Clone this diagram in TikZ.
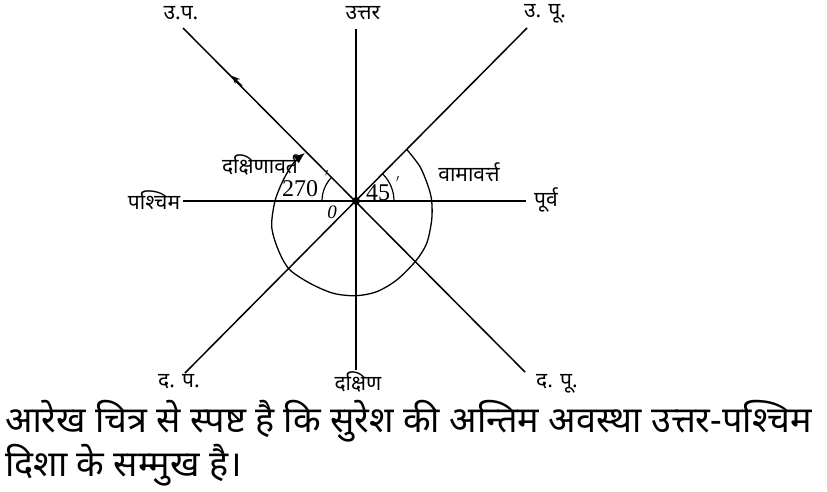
\documentclass[tikz,border=0pt]{standalone}
\usepackage{fontspec}
\setmainfont{Liberation Serif}
\newfontfamily\dev[Script=Devanagari]{Noto Sans}
\usetikzlibrary{arrows.meta}
\tikzset{
  dir/.style={line width=1.5pt},
  lbl/.style={font=\dev\fontsize{21}{24}\selectfont, inner sep=0pt},
  num/.style={font=\fontsize{24}{26}\selectfont, inner sep=0pt},
  deg/.style={font=\fontsize{16}{16}\selectfont, inner sep=0pt},
  para/.style={font=\dev\fontsize{36}{40}\selectfont, inner sep=0pt, anchor=base west},
}
\begin{document}
\begin{tikzpicture}[x=1pt,y=-1pt]
\useasboundingbox (0,0) rectangle (827,491);
\coordinate (O) at (356,201);
\coordinate (N) at (356,29);
\coordinate (S) at (356,370);
\coordinate (W) at (183,201);
\coordinate (E) at (526,201);
\coordinate (NW) at (183,28);
\coordinate (SE) at (525,372);
\coordinate (NE) at (527,28);
\coordinate (SW) at (185,373);
% direction lines
\draw[dir] (N) -- (S);
\draw[dir] (W) -- (E);
\draw[dir] (NW) -- (SE);
\draw[dir] (NE) -- (SW);
\draw[line width=2.2pt] (W) -- (220,201);
\draw[line width=2.2pt] (356,318) -- (S);
% arrow on NW line
\coordinate (a1) at (242,86);
\coordinate (a2) at (232,76);
\draw[line width=1.2pt,-{Stealth[length=8pt,width=7pt,open]}] (a1) -- (a2);
% big arc
\draw[line width=1.3pt,-{Latex[length=11pt,width=9pt]}] plot[smooth] coordinates {
 (406.7,149.3) (420,166.7) (428.3,186.7) (431.7,201) (431.7,220) (426.7,243.3)
 (415.7,261) (396.7,280) (376.7,291.7) (356,295.7) (333.3,293.3) (310,283.3)
 (289.3,269.3) (278.3,250) (271.7,226.7) (275,201) (283.3,180) (293.3,163.3) (305,153)};
% small arcs
\draw[line width=1.2pt] (O) ++(0:38) arc (0:-45:38);
\draw[line width=1.2pt] (O) ++(180:34) arc (180:225:34);
\fill (O) circle (4);
% numbers
\node[num] (n270) at (300,189) {270};
\node[deg] (d270) at (327,177) {$'$};
\node[num] (n45) at (378,193) {45};
\node[deg] (d45) at (398,183) {$'$};
\node[font=\itshape\fontsize{19}{19}\selectfont, inner sep=0pt] (zero) at (332,212) {0};
% labels
\node[lbl] (lN) at (363,13) {उत्तर};
\node[lbl] (lNW) at (181,13) {उ.प.};
\node[lbl] (lNE) at (545,14) {उ. पू.};
\node[lbl] (lW) at (154,200) {पश्चिम};
\node[lbl] (lE) at (546,200) {पूर्व};
\node[lbl] (lS) at (358,382) {दक्षिण};
\node[lbl] (lSW) at (179,382) {द. प.};
\node[lbl] (lSE) at (557,384) {द. पू.};
\node[lbl] (cw) at (260,165) {दक्षिणावर्त};
\node[lbl] (ccw) at (469,172) {वामावर्त्त};
% paragraph
\node[para] (p1) at (5,432) {आरेख चित्र से स्पष्ट है कि सुरेश की अन्तिम अवस्था उत्तर-पश्चिम};
\node[para] (p2) at (5,476) {दिशा के सम्मुख है।};
\end{tikzpicture}
\end{document}
